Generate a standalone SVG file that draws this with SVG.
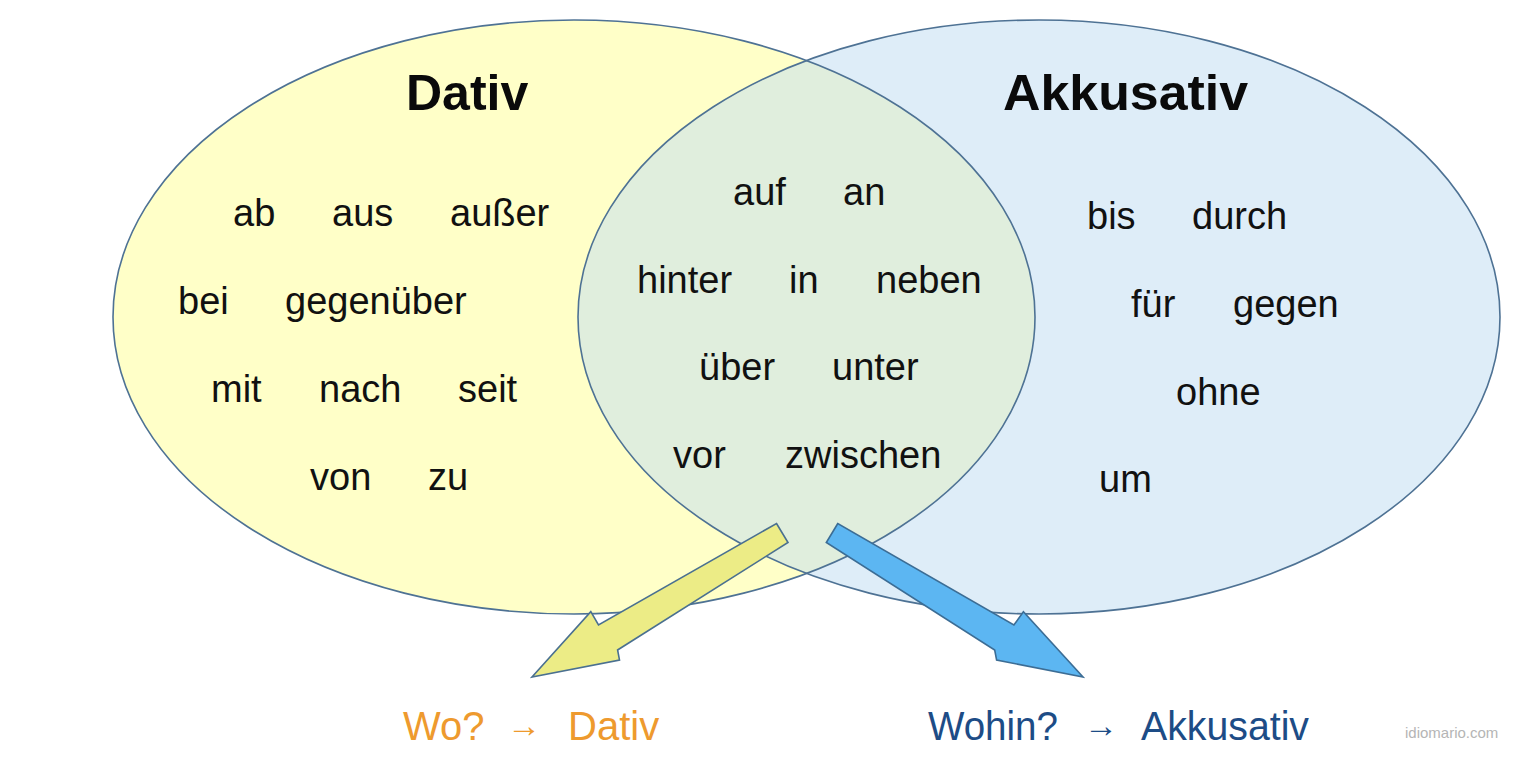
<svg xmlns="http://www.w3.org/2000/svg" width="1536" height="784" viewBox="0 0 1536 784">
<style>
.w{font-family:"Liberation Sans",Arial,sans-serif;font-size:38px;fill:#111}
.t{font-family:"Liberation Sans",Arial,sans-serif;font-size:50px;font-weight:bold;fill:#0a0a0a}
.lo{font-family:"Liberation Sans",Arial,sans-serif;font-size:40px;fill:#EE9A2E}
.lb{font-family:"Liberation Sans",Arial,sans-serif;font-size:40px;fill:#1D4C86}
.ar{font-size:34px}
.edge{fill:none;stroke:#4E7294;stroke-width:1.6}
</style>
<defs>
<clipPath id="clipR"><ellipse cx="1039" cy="317" rx="461" ry="297"/></clipPath>
</defs>
<rect width="1536" height="784" fill="#ffffff"/>
<g id="dativ-set">
<ellipse cx="574" cy="317" rx="461" ry="297" fill="#FFFFC8"/>
</g>
<g id="akkusativ-set">
<ellipse cx="1039" cy="317" rx="461" ry="297" fill="#DEEDF8"/>
</g>
<g id="overlap">
<ellipse cx="574" cy="317" rx="461" ry="297" fill="#E0EEDD" clip-path="url(#clipR)"/>
</g>
<g id="outlines">
<ellipse class="edge" cx="574" cy="317" rx="461" ry="297"/>
<ellipse class="edge" cx="1039" cy="317" rx="461" ry="297"/>
</g>
<g id="dativ-words">
<text class="t" x="406" y="110">Dativ</text>
<text class="w" x="233" y="226">ab</text>
<text class="w" x="332" y="226">aus</text>
<text class="w" x="450" y="226">außer</text>
<text class="w" x="178" y="314">bei</text>
<text class="w" x="285" y="314">gegenüber</text>
<text class="w" x="211" y="402">mit</text>
<text class="w" x="319" y="402">nach</text>
<text class="w" x="458" y="402">seit</text>
<text class="w" x="310" y="490">von</text>
<text class="w" x="428" y="490">zu</text>
</g>
<g id="both-words">
<text class="w" x="733" y="205">auf</text>
<text class="w" x="843" y="205">an</text>
<text class="w" x="637" y="293">hinter</text>
<text class="w" x="789" y="293">in</text>
<text class="w" x="876" y="293">neben</text>
<text class="w" x="699" y="380">über</text>
<text class="w" x="832" y="380">unter</text>
<text class="w" x="673" y="468">vor</text>
<text class="w" x="785" y="468">zwischen</text>
</g>
<g id="akkusativ-words">
<text class="t" x="1003" y="110" textLength="245" lengthAdjust="spacingAndGlyphs">Akkusativ</text>
<text class="w" x="1087" y="229">bis</text>
<text class="w" x="1192" y="229">durch</text>
<text class="w" x="1131" y="317">für</text>
<text class="w" x="1233" y="317">gegen</text>
<text class="w" x="1176" y="405">ohne</text>
<text class="w" x="1099" y="492">um</text>
</g>
<g id="connectors">
<polygon points="776.5,523.5 788,542.5 617.6,650 619.5,660 532,677 590.8,611.7 598.5,625" fill="#ECEC86" stroke="#4A7090" stroke-width="1.6" stroke-linejoin="miter"/>
<polygon points="837.8,523.5 826.3,542.5 994.7,650 996.6,660 1083,677 1023.4,611.7 1013.9,625" fill="#5CB6F2" stroke="#3C6D95" stroke-width="1.6" stroke-linejoin="miter"/>
</g>
<g id="label-wo">
<text class="lo" x="403" y="740">Wo?</text>
<text class="lo ar" x="507" y="737">→</text>
<text class="lo" x="568" y="740">Dativ</text>
</g>
<g id="label-wohin">
<text class="lb" x="928" y="740" textLength="130" lengthAdjust="spacingAndGlyphs">Wohin?</text>
<text class="lb ar" x="1084" y="737">→</text>
<text class="lb" x="1141" y="740" textLength="168" lengthAdjust="spacingAndGlyphs">Akkusativ</text>
</g>
<g id="watermark">
<text x="1405" y="738" style="font-family:'Liberation Sans',Arial,sans-serif;font-size:15px;fill:#B5B5B5">idiomario.com</text>
</g>
</svg>
